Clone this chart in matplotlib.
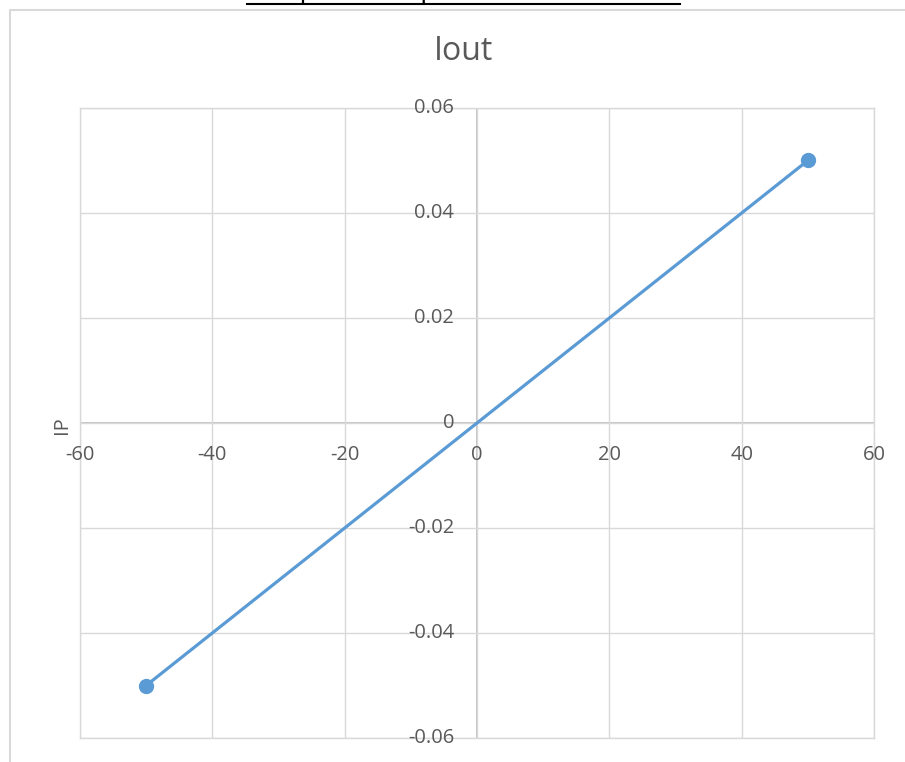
import matplotlib.pyplot as plt
from matplotlib.lines import Line2D

# data
x_vals = [-50, 50]
y_vals = [-0.05, 0.05]
x_ticks = [-60, -40, -20, 0, 20, 40, 60]
y_ticks = [-0.06, -0.04, -0.02, 0, 0.02, 0.04, 0.06]
x_labels = ['-60', '-40', '-20', '0', '20', '40', '60']
y_labels = ['-0.06', '-0.04', '-0.02', '0', '0.02', '0.04', '0.06']

W, H = 905, 762
plt.rcParams['font.family'] = ['Open Sans', 'DejaVu Sans']
fig = plt.figure(figsize=(W / 100, H / 100), dpi=100)

def px(x0, y0, x1, y1):
    return [x0 / W, 1 - y1 / H, (x1 - x0) / W, (y1 - y0) / H]

grid_c = '#d9d9d9'
txt_c = '#595959'
line_c = '#5b9bd5'

# outer chart border (left and top only visible)
fig.add_artist(Line2D([10 / W, 10 / W, 1.0], [0.0, 1 - 10 / H, 1 - 10 / H],
                      transform=fig.transFigure, color=grid_c, lw=1.5))

# heading above the chart, cut off by the top edge as in the source
fig.text(463 / W, 1.0 + 1 / H, 'Input & Output Characteristics', ha='center', va='baseline',
         fontsize=19, color='black')
fig.add_artist(Line2D([247 / W, 680 / W], [1 - 4 / H, 1 - 4 / H],
                      transform=fig.transFigure, color='black', lw=1.5))

ax = fig.add_axes(px(80, 108, 874, 738))
ax.set_xlim(-60, 60)
ax.set_ylim(-0.06, 0.06)
ax.set_xticks(x_ticks)
ax.set_yticks(y_ticks)
ax.tick_params(length=0, labelbottom=False, labelleft=False)
ax.grid(True, color=grid_c, lw=1.0)
for s in ax.spines.values():
    s.set_color(grid_c)
    s.set_linewidth(1.0)
ax.axhline(0, color='#bfbfbf', lw=1.3, zorder=1.5)
ax.axvline(0, color='#bfbfbf', lw=1.3, zorder=1.5)

for xv, lab in zip(x_ticks, x_labels):
    ax.annotate(lab, (xv, 0), xytext=(0, -23), textcoords='offset points',
                ha='center', va='center', fontsize=14.5, color=txt_c, annotation_clip=False)
for yv, lab in zip(y_ticks, y_labels):
    ax.annotate(lab, (0, yv), xytext=(-16.5, 0), textcoords='offset points',
                ha='right', va='center', fontsize=14.5, color=txt_c, annotation_clip=False)

ax.plot(x_vals, y_vals, color=line_c, lw=2.3, marker='o', markersize=10, zorder=3,
        clip_on=False)

fig.text(463 / W, 1 - 52 / H, 'Iout', ha='center', va='center', fontsize=23, color=txt_c)
fig.text(62 / W, 1 - 425 / H, 'IP', ha='center', va='center', rotation=90,
         fontsize=14.5, color=txt_c)

fig.savefig('out.png', dpi=100)
